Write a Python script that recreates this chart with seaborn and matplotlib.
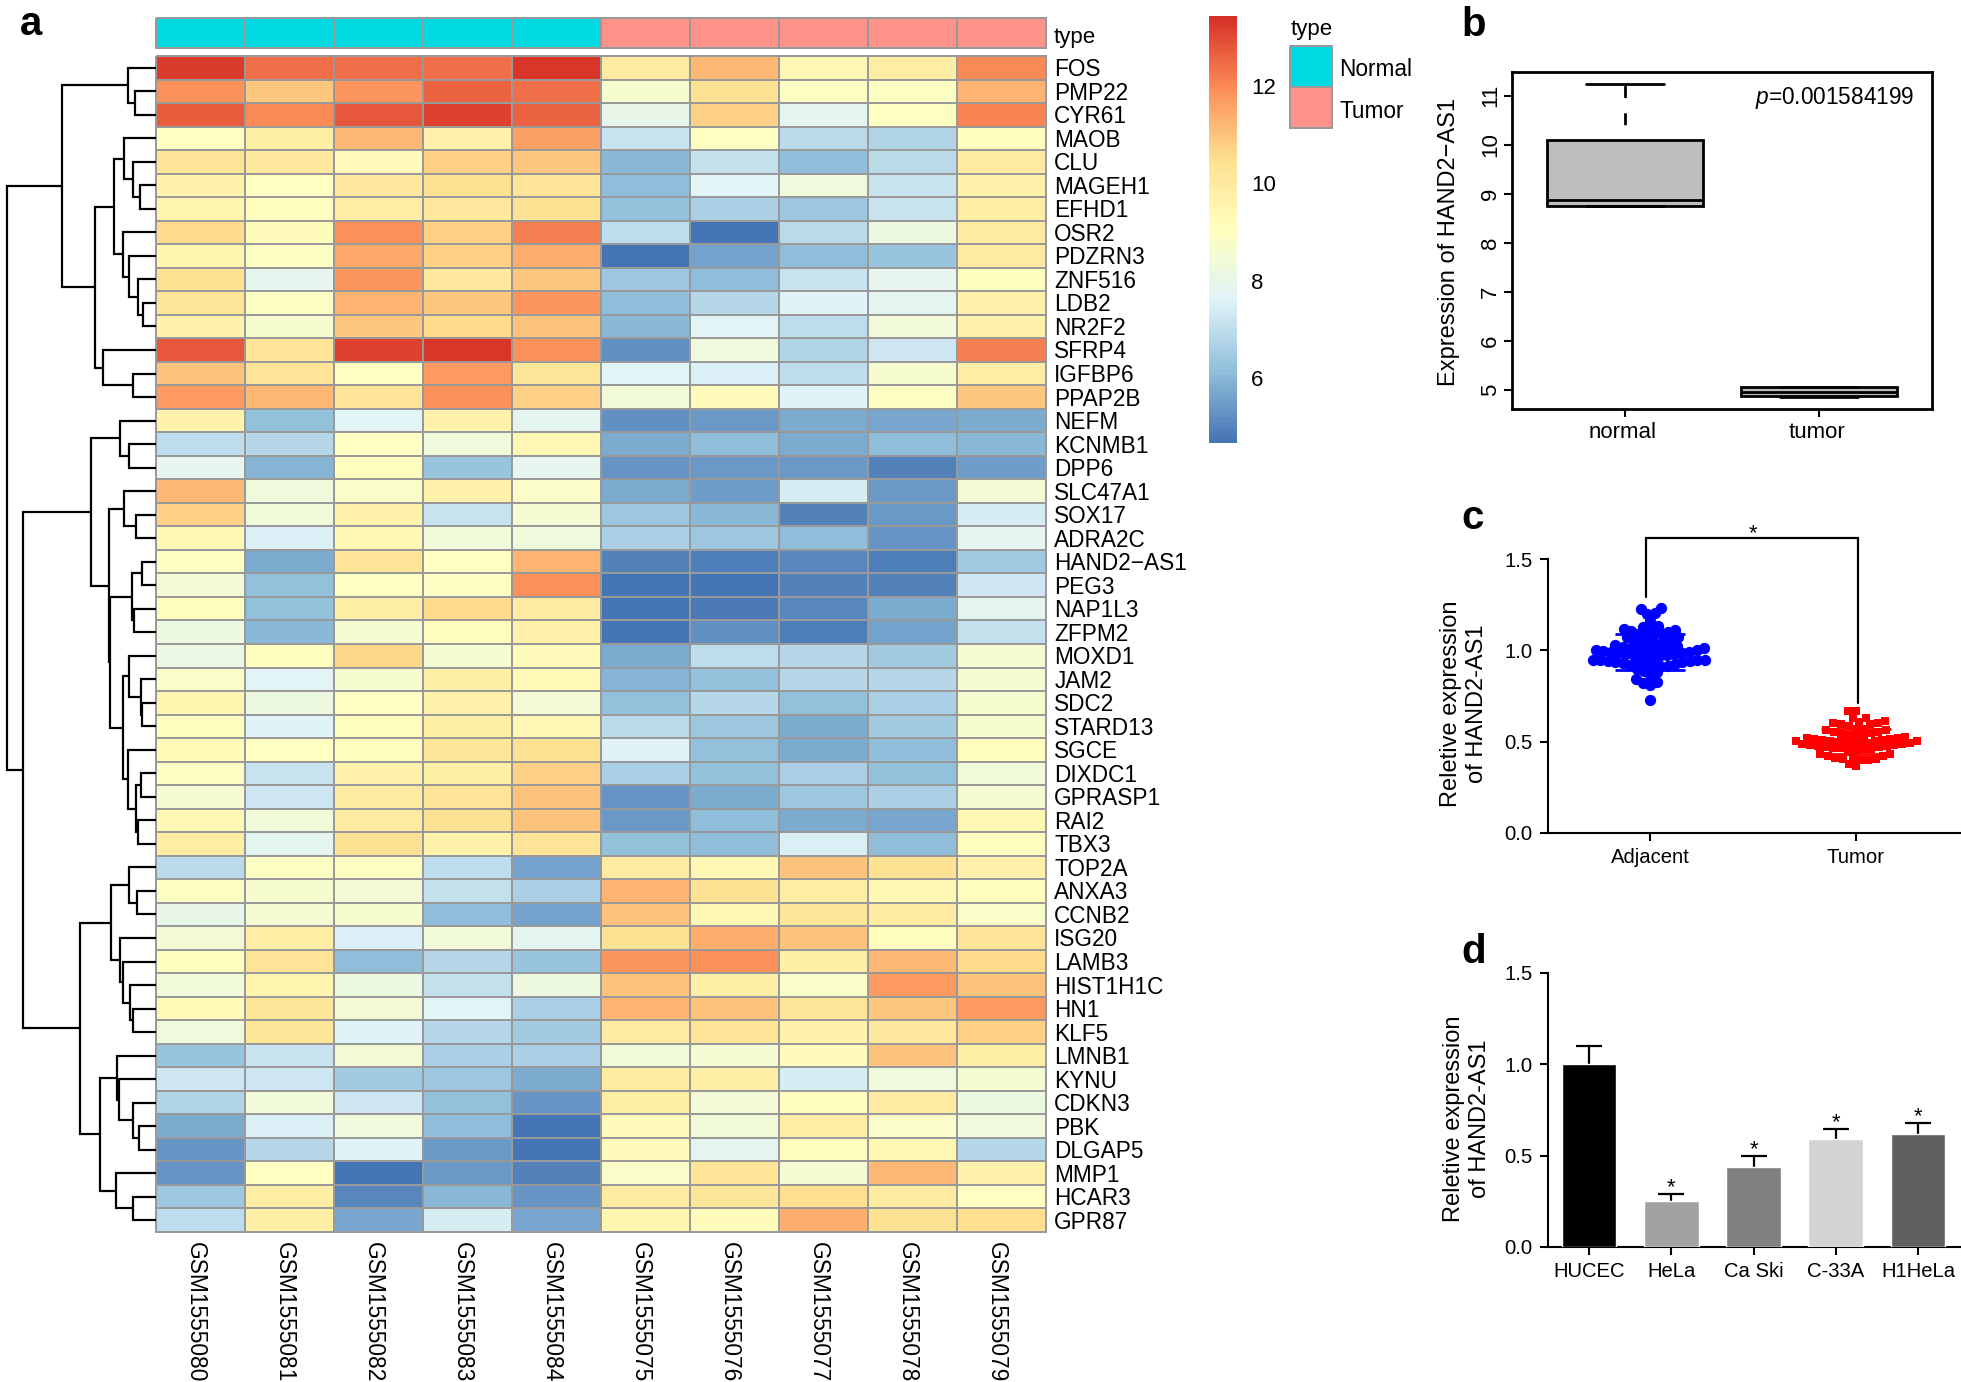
import numpy as np
import pandas as pd
import matplotlib
matplotlib.use("Agg")
import matplotlib.pyplot as plt
from matplotlib.colors import LinearSegmentedColormap, ListedColormap
from matplotlib.transforms import ScaledTranslation
import seaborn as sns

W, H = 1961, 1382

genes = ["FOS", "PMP22", "CYR61", "MAOB", "CLU", "MAGEH1", "EFHD1", "OSR2", "PDZRN3", "ZNF516",
         "LDB2", "NR2F2", "SFRP4", "IGFBP6", "PPAP2B", "NEFM", "KCNMB1", "DPP6", "SLC47A1", "SOX17",
         "ADRA2C", "HAND2\u2212AS1", "PEG3", "NAP1L3", "ZFPM2", "MOXD1", "JAM2", "SDC2", "STARD13", "SGCE",
         "DIXDC1", "GPRASP1", "RAI2", "TBX3", "TOP2A", "ANXA3", "CCNB2", "ISG20", "LAMB3", "HIST1H1C",
         "HN1", "KLF5", "LMNB1", "KYNU", "CDKN3", "PBK", "DLGAP5", "MMP1", "HCAR3", "GPR87"]
samples = ["GSM1555080", "GSM1555081", "GSM1555082", "GSM1555083", "GSM1555084",
           "GSM1555075", "GSM1555076", "GSM1555077", "GSM1555078", "GSM1555079"]
sample_type = [0, 0, 0, 0, 0, 1, 1, 1, 1, 1]

expr = [
    [13.2, 12.4, 12.4, 12.4, 13.35, 10.0, 11.2, 9.4, 9.9, 12.0],
    [11.9, 10.9, 11.8, 12.6, 12.4, 8.7, 10.4, 8.9, 8.9, 11.3],
    [12.7, 12.0, 12.8, 13.1, 12.6, 8.0, 10.8, 7.8, 9.05, 12.1],
    [9.05, 9.8, 11.2, 9.7, 11.6, 7.2, 9.0, 6.9, 6.7, 9.1],
    [10.3, 10.1, 9.2, 10.8, 10.9, 6.0, 7.1, 6.1, 6.9, 10.0],
    [9.6, 9.0, 10.1, 10.4, 10.3, 6.1, 7.7, 8.3, 7.2, 9.6],
    [9.5, 9.1, 9.9, 10.1, 10.4, 6.2, 6.6, 6.4, 7.2, 9.9],
    [10.6, 9.2, 11.9, 10.8, 12.2, 7.0, 4.75, 6.9, 8.2, 10.0],
    [9.5, 8.9, 11.5, 10.8, 11.4, 4.75, 5.6, 6.1, 6.3, 10.0],
    [10.4, 7.9, 11.8, 10.1, 10.9, 6.4, 6.1, 7.2, 7.9, 9.1],
    [10.2, 8.9, 11.3, 10.9, 11.8, 6.1, 6.8, 7.6, 7.8, 9.7],
    [9.6, 8.7, 10.9, 10.6, 11.0, 6.0, 7.7, 7.0, 8.4, 9.6],
    [12.8, 10.3, 13.1, 13.3, 11.9, 5.2, 8.3, 6.7, 7.3, 12.2],
    [11.0, 10.3, 9.05, 11.7, 10.2, 7.7, 7.5, 7.0, 8.7, 9.9],
    [11.7, 11.2, 10.3, 11.9, 10.8, 8.4, 9.2, 7.6, 8.9, 10.9],
    [9.6, 6.2, 7.7, 9.6, 7.8, 5.2, 5.4, 5.8, 5.7, 5.8],
    [7.0, 6.8, 9.05, 8.3, 9.4, 5.8, 6.1, 5.8, 6.1, 6.0],
    [7.9, 5.9, 9.1, 6.3, 7.9, 5.3, 5.4, 5.4, 5.0, 5.5],
    [11.2, 8.3, 8.8, 9.6, 8.8, 5.8, 5.5, 7.4, 5.4, 8.5],
    [10.8, 8.4, 9.6, 7.2, 8.6, 6.4, 6.0, 5.0, 5.4, 7.4],
    [9.4, 7.5, 9.4, 8.4, 8.3, 6.6, 6.4, 6.1, 5.3, 7.9],
    [8.9, 5.8, 10.3, 9.0, 11.3, 4.95, 4.85, 5.1, 4.85, 6.5],
    [8.5, 6.2, 9.0, 8.9, 11.9, 4.7, 4.7, 5.0, 5.0, 7.3],
    [9.1, 6.2, 9.8, 10.6, 10.0, 4.75, 4.8, 5.1, 5.8, 7.8],
    [8.2, 6.0, 8.6, 9.1, 9.7, 4.7, 5.2, 4.9, 5.6, 7.1],
    [8.1, 9.1, 10.7, 8.6, 9.2, 5.8, 7.0, 6.8, 6.5, 8.6],
    [8.8, 7.7, 8.7, 9.8, 9.3, 5.9, 6.2, 6.8, 6.8, 8.6],
    [9.5, 8.2, 9.0, 9.7, 8.5, 6.2, 6.8, 6.2, 6.6, 8.7],
    [9.1, 7.6, 9.1, 9.8, 9.4, 6.9, 6.4, 5.8, 6.5, 8.7],
    [9.3, 9.0, 9.1, 10.2, 10.4, 7.6, 6.2, 5.8, 6.1, 9.1],
    [8.9, 7.2, 9.6, 9.8, 10.8, 6.6, 6.2, 6.6, 6.2, 8.4],
    [8.6, 7.3, 10.0, 10.3, 11.0, 5.3, 5.8, 6.4, 6.6, 8.6],
    [9.4, 8.4, 10.0, 10.4, 11.0, 5.4, 6.1, 5.8, 5.7, 9.4],
    [9.9, 7.8, 10.4, 9.6, 10.3, 6.2, 6.1, 7.5, 6.1, 9.1],
    [6.9, 8.9, 8.9, 7.0, 5.6, 10.0, 9.4, 11.0, 10.4, 9.7],
    [8.9, 8.7, 8.5, 7.1, 6.6, 11.3, 10.4, 9.9, 9.4, 9.1],
    [8.0, 8.6, 8.7, 6.1, 5.6, 11.0, 9.4, 10.2, 10.0, 8.8],
    [8.5, 9.9, 7.5, 8.4, 7.8, 10.4, 11.4, 11.0, 9.1, 10.3],
    [9.1, 10.3, 6.1, 6.8, 6.3, 11.8, 11.9, 9.8, 11.2, 10.6],
    [8.4, 9.5, 8.2, 7.1, 8.2, 11.0, 9.8, 8.8, 11.7, 11.0],
    [9.3, 10.2, 8.5, 7.7, 6.6, 11.3, 11.0, 10.2, 10.9, 11.7],
    [8.3, 10.2, 7.6, 6.8, 6.5, 10.0, 10.3, 9.6, 10.1, 10.8],
    [6.3, 7.2, 8.5, 6.6, 6.6, 8.4, 8.6, 9.2, 11.0, 9.8],
    [7.3, 7.3, 6.5, 6.4, 5.8, 10.0, 9.8, 7.4, 8.3, 8.6],
    [6.7, 8.4, 7.3, 6.2, 5.3, 9.8, 8.5, 9.1, 10.0, 8.2],
    [5.8, 7.5, 8.3, 6.1, 4.75, 9.2, 8.4, 9.9, 8.8, 8.3],
    [5.3, 6.8, 7.6, 5.4, 4.7, 9.2, 7.8, 9.1, 9.4, 6.8],
    [5.3, 9.05, 4.7, 5.4, 5.0, 8.8, 10.3, 8.6, 11.2, 9.6],
    [6.4, 9.9, 5.1, 6.0, 5.3, 10.0, 10.2, 10.5, 10.0, 9.0],
    [7.0, 9.8, 5.7, 7.4, 5.7, 9.5, 9.2, 11.4, 10.4, 10.5],
]

# row tree as (height, child, child), a plain int is a row of the heatmap
row_tree = (335,
    (210, (62, 0, (46, 1, 2)),
          (136, (94, (72, 3, (51, 4, (37, 5, 6))),
                     (74, 7, (61, 8, (40, 9, (30, 10, 11))))),
                (120, 12, (51, 13, 14)))),
    (298, (145, (80, 15, (61, 16, 17)),
                (105, (72, 18, (45, 19, 20)),
                      (103, (54, (32, 21, 22), (50, 23, 24)),
                            (75, (60, 25, (33, 26, (31, 27, 28))),
                                 (62, 29, (44, (33, 30, 31), (40, 32, 33))))))),
          (170, (102, (60, 34, (43, 35, 36)),
                      (80, 37, (75, 38, (59, 39, (52, 40, 41))))),
                (126, (87, 42, (82, 43, (52, 44, (38, 45, 46)))),
                      (90, 47, (52, 48, 49))))))

box_groups = ["normal", "tumor"]
box_normal = [8.74, 8.74, 8.87, 10.10, 11.23]
box_tumor = [4.85, 4.87, 4.96, 5.06, 5.06]

adjacent = [1.23, 1.224, 1.206, 1.199, 1.162, 1.133, 1.129, 1.12, 1.115, 1.111, 1.107, 1.098, 1.093,
            1.089, 1.089, 1.082, 1.071, 1.071, 1.06, 1.056, 1.052, 1.049, 1.049, 1.034,
            1.027, 1.023, 1.02, 1.018, 1.015, 1.012, 1.01, 1.008, 1.005, 1.002, 1.0, 0.998,
            0.995, 0.992, 0.99, 0.987, 0.985, 0.982, 0.98, 0.977, 0.975, 0.972, 0.97, 0.966,
            0.947, 0.947, 0.945, 0.945, 0.943, 0.943, 0.94, 0.94, 0.935, 0.935, 0.93, 0.93,
            0.925, 0.92, 0.915, 0.915, 0.905, 0.90, 0.888, 0.879, 0.864, 0.842, 0.828, 0.819, 0.809, 0.727]
tumor = [0.669, 0.669, 0.632, 0.627, 0.612, 0.608, 0.60, 0.60, 0.595, 0.595, 0.585, 0.572, 0.572,
         0.563, 0.563, 0.554, 0.554, 0.545, 0.54, 0.535, 0.53, 0.53, 0.525, 0.52, 0.52, 0.515, 0.515,
         0.51, 0.51, 0.505, 0.505, 0.504, 0.504, 0.50, 0.50, 0.495, 0.495, 0.49, 0.49, 0.485, 0.485,
         0.48, 0.48, 0.475, 0.475, 0.47, 0.47, 0.465, 0.465, 0.46, 0.46, 0.455, 0.455,
         0.431, 0.431, 0.42, 0.42, 0.413, 0.413, 0.407, 0.407, 0.398, 0.398, 0.38, 0.365]
swarm_means = [0.99, 0.50]
swarm_sds = [0.10, 0.07]

cell_lines = ["HUCEC", "HeLa", "Ca Ski", "C-33A", "H1HeLa"]
cell_values = [1.0, 0.25, 0.44, 0.59, 0.62]
cell_errors = [0.10, 0.04, 0.06, 0.055, 0.057]
cell_colors = ["#000000", "#A2A2A2", "#808080", "#D3D3D3", "#606060"]

heat_colors = ["#4575B4", "#91BFDB", "#E0F3F8", "#FFFFBF", "#FEE090", "#FC8D59", "#D73027"]
type_colors = ["#00DAE0", "#FF9289"]
grid_gray = "#999999"

sns.set_theme(style="ticks")
plt.rcParams["font.family"] = ["Liberation Sans", "DejaVu Sans"]
plt.rcParams["mathtext.fontset"] = "custom"
plt.rcParams["mathtext.it"] = "Liberation Sans:italic"
plt.rcParams["mathtext.rm"] = "Liberation Sans"
plt.rcParams["text.color"] = "black"
plt.rcParams["axes.labelcolor"] = "black"
plt.rcParams["xtick.color"] = "black"
plt.rcParams["ytick.color"] = "black"

fig = plt.figure(figsize=(W / 100, H / 100), dpi=100)


def add_ax(x0, y0, x1, y1):
    # pixel box of the reference, y counted from the top
    return fig.add_axes([x0 / W, 1 - y1 / H, (x1 - x0) / W, (y1 - y0) / H])


def fig_text(x, y, s, **kw):
    return fig.text(x / W, 1 - y / H, s, **kw)


def nudge(labels, dx=0, dy=0):
    # move tick labels by a few pixels, dy counted downwards
    shift = ScaledTranslation(dx / 100, -dy / 100, fig.dpi_scale_trans)
    for lab in labels:
        lab.set_transform(lab.get_transform() + shift)


# panel a
heat_cmap = LinearSegmentedColormap.from_list("rdylbu", heat_colors, N=100)
type_cmap = ListedColormap(type_colors)

ax_heat = add_ax(156, 56, 1046, 1232)
ax_cbar = add_ax(1209, 16, 1237, 443)
df = pd.DataFrame(expr, index=genes, columns=samples)
sns.heatmap(df, cmap=heat_cmap, vmin=4.67, vmax=13.44, linewidths=1.3, linecolor=grid_gray,
            ax=ax_heat, cbar_ax=ax_cbar, cbar_kws={"ticks": [6, 8, 10, 12]},
            xticklabels=True, yticklabels=True)
ax_heat.collections[0].set_clip_on(False)
ax_heat.yaxis.tick_right()
ax_heat.tick_params(axis="both", length=0, labelsize=16.3)
ax_heat.tick_params(axis="x", pad=7, labelsize=16.4)
ax_heat.tick_params(axis="y", pad=6)
plt.setp(ax_heat.get_yticklabels(), rotation=0, va="center")
plt.setp(ax_heat.get_xticklabels(), rotation=270, ha="center", va="top")
nudge(ax_heat.get_yticklabels(), dy=2)
nudge(ax_heat.get_xticklabels(), dx=-5)
ax_cbar.tick_params(length=0, labelsize=16, pad=10)
ax_heat.collections[0].colorbar.outline.set_visible(False)

ax_type = add_ax(156, 18, 1046, 48)
sns.heatmap([sample_type], cmap=type_cmap, vmin=0, vmax=1, linewidths=1.3, linecolor=grid_gray,
            cbar=False, xticklabels=False, yticklabels=False, ax=ax_type)
ax_type.collections[0].set_clip_on(False)
fig_text(1054, 37, "type", fontsize=16, va="center")

ax_leg = add_ax(1290, 46, 1332, 128)
sns.heatmap([[0], [1]], cmap=type_cmap, vmin=0, vmax=1, linewidths=1.3, linecolor=grid_gray,
            cbar=False, xticklabels=False, yticklabels=False, ax=ax_leg)
ax_leg.collections[0].set_clip_on(False)
fig_text(1291, 30, "type", fontsize=16, va="center")
fig_text(1339, 70, "Normal", fontsize=16.3, va="center")
fig_text(1339, 111, "Tumor", fontsize=16.3, va="center")


def draw_tree(ax, node):
    # returns (height, y centre) of the node
    if isinstance(node, int):
        return 0, node + 0.5
    h, a, b = node
    ha, ya = draw_tree(ax, a)
    hb, yb = draw_tree(ax, b)
    ax.plot([ha, h, h, hb], [ya, ya, yb, yb], color="black", lw=1.6,
            solid_joinstyle="miter", solid_capstyle="butt", clip_on=False)
    return h, (ya + yb) / 2


ax_tree = add_ax(0, 56, 156, 1232)
draw_tree(ax_tree, row_tree)
ax_tree.set_xlim(350, 0)
ax_tree.set_ylim(len(genes), 0)
ax_tree.axis("off")

# panel b
ax_b = add_ax(1512, 72, 1932, 409)
box_df = pd.DataFrame({"group": [box_groups[0]] * len(box_normal) + [box_groups[1]] * len(box_tumor),
                       "value": box_normal + box_tumor})
sns.boxplot(data=box_df, x="group", y="value", color="#BEBEBE", saturation=1, linecolor="black",
            linewidth=2, width=0.8, whis=10, fliersize=0, ax=ax_b,
            whiskerprops={"linestyle": (4.3, (4.3, 5.5))})
ax_b.set_xlim(-0.58, 1.58)
ax_b.set_ylim(4.61, 11.48)
ax_b.set_yticks([5, 6, 7, 8, 9, 10, 11])
ax_b.tick_params(axis="both", length=6, width=1.5, labelsize=16)
ax_b.tick_params(axis="y", pad=2)
ax_b.tick_params(axis="x", pad=3)
plt.setp(ax_b.get_yticklabels(), rotation=90, va="center")
nudge(ax_b.get_xticklabels(), dx=-2)
ax_b.set_xlabel("")
ax_b.set_ylabel("")
for sp in ax_b.spines.values():
    sp.set_linewidth(2)
    sp.set_color("black")
fig_text(1449, 242, "Expression of HAND2\u2212AS1", fontsize=17, rotation=90, va="center", ha="center")
ax_b.text(0.958, 0.922, r"$\mathit{p}$=0.001584199", transform=ax_b.transAxes, fontsize=16.3,
          ha="right", va="center")


def style_prism(ax):
    sns.despine(ax=ax)
    ax.set_ylim(0, 1.5)
    ax.set_yticks([0, 0.5, 1.0, 1.5])
    ax.set_yticklabels(["0.0", "0.5", "1.0", "1.5"])
    ax.tick_params(axis="both", length=6, width=1.5, labelsize=14.6, pad=5)
    for side in ["left", "bottom"]:
        ax.spines[side].set_linewidth(1.5)
        ax.spines[side].set_color("black")
    ax.set_xlabel("")
    ax.set_ylabel("")


# panel c
ax_c = add_ax(1548, 559, 1960, 833)
swarm_order = ["Adjacent", "Tumor"]
sns.swarmplot(x=["Adjacent"] * len(adjacent), y=adjacent, order=swarm_order, color="#0000FF",
              marker="o", size=5.2, warn_thresh=1, ax=ax_c)
sns.swarmplot(x=["Tumor"] * len(tumor), y=tumor, order=swarm_order, color="#FF0000",
              marker="s", size=5.3, warn_thresh=1, ax=ax_c)
ax_c.set_xlim(-0.495, 1.505)
style_prism(ax_c)
fig.canvas.draw()

# swarm layout is worked out with small markers, the points overlap in the original
for coll, colr, mk, area in zip(list(ax_c.collections[:2]), ["#0000FF", "#FF0000"], ["o", "s"], [66, 72]):
    pts = np.array(coll.get_offsets())
    coll.remove()
    ax_c.scatter(pts[:, 0], pts[:, 1], s=area, color=colr, marker=mk, linewidths=0, clip_on=False, zorder=3)
for i, (m, sd) in enumerate(zip(swarm_means, swarm_sds)):
    colr = ["#0000FF", "#FF0000"][i]
    ax_c.hlines([m - sd, m, m + sd], i - 0.17, i + 0.17, color=colr, lw=2, zorder=4)

ax_c.plot([-0.02, -0.02, 1.01, 1.01], [1.29, 1.615, 1.615, 0.71], color="black", lw=1.6,
          clip_on=False, solid_joinstyle="miter")
ax_c.text(0.5, 1.64, "*", ha="center", va="center", fontsize=16, clip_on=False)
fig_text(1464, 704, "Reletive expression\nof HAND2-AS1", fontsize=17, rotation=90, va="center",
         ha="center", linespacing=1.2)

# panel d
ax_d = add_ax(1548, 973, 1960, 1247)
sns.barplot(x=cell_lines, y=cell_values, hue=cell_lines, palette=cell_colors, saturation=1,
            width=0.665, legend=False, ax=ax_d, zorder=3)
_, d_caps, _ = ax_d.errorbar(range(len(cell_lines)), cell_values, yerr=[[0] * 5, cell_errors], fmt="none",
                             ecolor="black", elinewidth=1.6, capsize=9.7, capthick=1.6, zorder=2)
d_caps[0].set_visible(False)
ax_d.set_xlim(-0.5, 4.51)
style_prism(ax_d)
for i in range(1, len(cell_lines)):
    ax_d.text(i, cell_values[i] + cell_errors[i] + 0.035, "*", ha="center", va="center", fontsize=16)
fig_text(1467, 1119, "Reletive expression\nof HAND2-AS1", fontsize=17, rotation=90, va="center",
         ha="center", linespacing=1.2)

# panel letters
for x, y, s in [(20, 35, "a"), (1461, 36, "b"), (1461, 529, "c"), (1461, 963, "d")]:
    fig_text(x, y, s, fontsize=29, fontweight="bold", va="baseline", ha="left")

fig.savefig("out.png", dpi=100)
